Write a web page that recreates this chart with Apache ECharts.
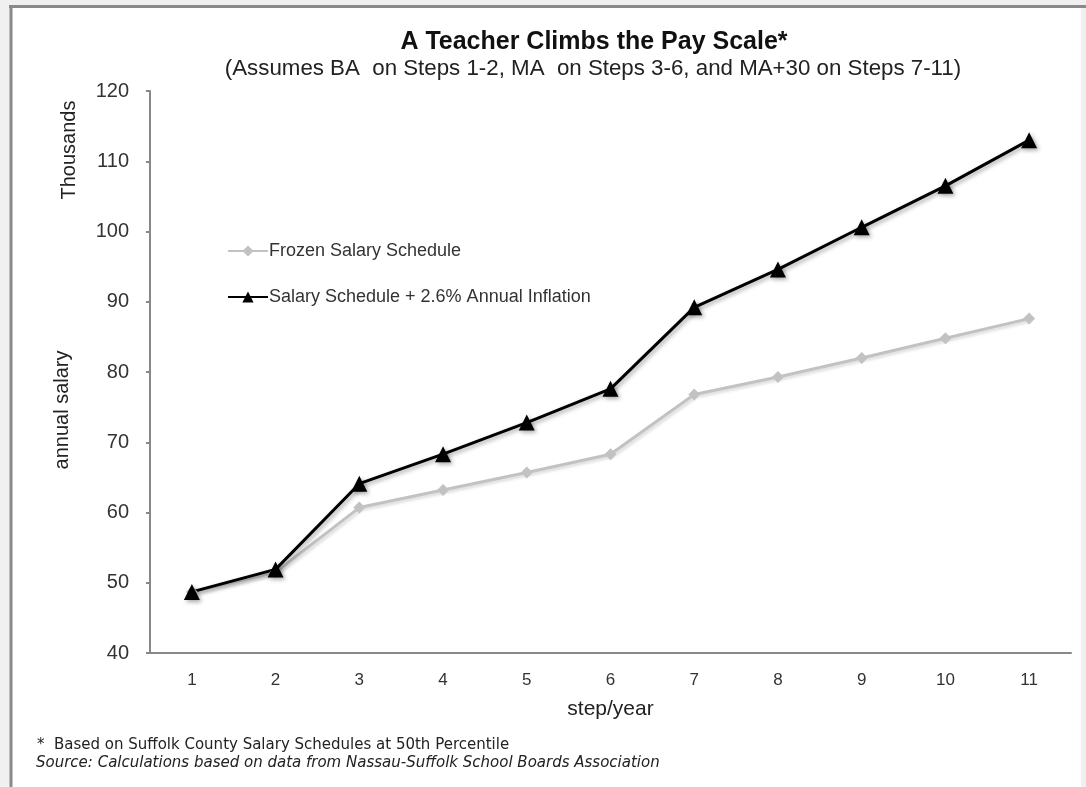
<!DOCTYPE html>
<html>
	<head>
		<meta charset="utf-8">
		<script type="text/javascript" src="https://cdn.jsdelivr.net/npm/echarts@6/dist/echarts.min.js"></script>
		<style>
			html, body { margin: 0; padding: 0; background: #f0f0f0; }
		</style>
	</head>
	<body>
		<div id="main" style="width:1086px;height:787px;"></div>

		<script type="text/javascript">
			// steps along x axis
			var steps = ['1', '2', '3', '4', '5', '6', '7', '8', '9', '10', '11'];
			// salary in thousands
			var frozen = [48.7, 51.5, 60.7, 63.2, 65.7, 68.3, 76.8, 79.3, 82.0, 84.8, 87.6];
			var inflation = [48.7, 51.9, 64.1, 68.3, 72.8, 77.6, 89.2, 94.6, 100.6, 106.5, 113.0];
			var yTicks = [40, 120, 10]; // min, max, interval

			var myChart = echarts.init(document.getElementById('main'));

			var font = 'Liberation Sans, Arial, sans-serif';
			var noteFont = 'DejaVu Sans, Verdana, sans-serif';

			var option = {
				backgroundColor: '#f0f0f0',
				animation: false,
				graphic: [
					// white sheet with grey top/left edge
					{
						type: 'rect', z: -10, silent: true,
						shape: { x: 11, y: 7, width: 1070, height: 790 },
						style: { fill: '#ffffff' }
					},
					{
						type: 'line', silent: true,
						shape: { x1: 9, y1: 6.5, x2: 1086, y2: 6.5 },
						style: { stroke: '#8a8a8a', lineWidth: 3 }
					},
					{
						type: 'line', silent: true,
						shape: { x1: 11, y1: 6, x2: 11, y2: 787 },
						style: { stroke: '#8a8a8a', lineWidth: 3 }
					},
					// titles
					{
						type: 'text', x: 594, y: 42,
						style: { text: 'A Teacher Climbs the Pay Scale*', fontSize: 25, fontWeight: 'bold', fill: '#111', fontFamily: font, align: 'center', verticalAlign: 'middle' }
					},
					{
						type: 'text', x: 593, y: 69,
						style: { text: '(Assumes BA  on Steps 1-2, MA  on Steps 3-6, and MA+30 on Steps 7-11)', fontSize: 22.3, fill: '#222', fontFamily: font, align: 'center', verticalAlign: 'middle' }
					},
					// footnotes
					{
						type: 'text', x: 37, y: 745,
						style: { text: '*  Based on Suffolk County Salary Schedules at 50th Percentile', fontSize: 15, fill: '#222', fontFamily: noteFont, verticalAlign: 'middle' }
					},
					{
						type: 'text', x: 36, y: 763,
						style: { text: 'Source: Calculations based on data from Nassau-Suffolk School Boards Association', fontSize: 15, fontStyle: 'italic', fill: '#222', fontFamily: noteFont, verticalAlign: 'middle' }
					},
					{
						type: 'text', x: 69, y: 150, rotation: Math.PI / 2,
						style: { text: 'Thousands', fontSize: 20, fill: '#222', fontFamily: font, align: 'center', verticalAlign: 'middle' }
					}
				],
				legend: {
					orient: 'vertical',
					left: 222,
					top: 237,
					itemGap: 28,
					itemWidth: 40,
					itemHeight: 14,
					textStyle: { fontSize: 18, lineHeight: 18, color: '#333', fontFamily: font, padding: [0, 0, 0, -4] },
					data: ['Frozen Salary Schedule', 'Salary Schedule + 2.6% Annual Inflation']
				},
				grid: { left: 150, right: 15, top: 91, bottom: 134 },
				xAxis: {
					type: 'category',
					data: steps,
					name: 'step/year',
					nameLocation: 'middle',
					nameGap: 46,
					nameTextStyle: { fontSize: 21, color: '#222', fontFamily: font },
					axisLine: { lineStyle: { color: '#888', width: 2 } },
					axisTick: { length: 4, lineStyle: { color: '#888', width: 2 } },
					axisLabel: { fontSize: 17, color: '#333', margin: 19, fontFamily: font }
				},
				yAxis: {
					type: 'value',
					min: yTicks[0],
					max: yTicks[1],
					interval: yTicks[2],
					name: 'annual salary',
					nameLocation: 'middle',
					nameGap: 78,
					nameTextStyle: { fontSize: 20, color: '#222', fontFamily: font, padding: [0, 0, 0, -76] },
					splitLine: { show: false },
					axisLine: { show: true, lineStyle: { color: '#888', width: 2 } },
					axisTick: { show: true, length: 4, lineStyle: { color: '#888', width: 2 } },
					axisLabel: { fontSize: 20, color: '#333', margin: 21, fontFamily: font }
				},
				series: [
					{
						name: 'Frozen Salary Schedule',
						type: 'line',
						data: frozen,
						symbol: 'diamond',
						symbolSize: 12,
						color: '#c2c2c2',
						lineStyle: { width: 3, color: '#c2c2c2', shadowBlur: 3, shadowColor: 'rgba(0,0,0,0.15)', shadowOffsetX: 2, shadowOffsetY: 2 },
						itemStyle: { color: '#c2c2c2' }
					},
					{
						name: 'Salary Schedule + 2.6% Annual Inflation',
						type: 'line',
						data: inflation,
						symbol: 'triangle',
						symbolSize: 16,
						color: '#000',
						lineStyle: { width: 3, color: '#000', shadowBlur: 4, shadowColor: 'rgba(0,0,0,0.35)', shadowOffsetX: 2, shadowOffsetY: 2 },
						itemStyle: { color: '#000', shadowBlur: 4, shadowColor: 'rgba(0,0,0,0.35)', shadowOffsetX: 2, shadowOffsetY: 2 }
					}
				]
			};

			myChart.setOption(option);
		</script>
	</body>
</html>
